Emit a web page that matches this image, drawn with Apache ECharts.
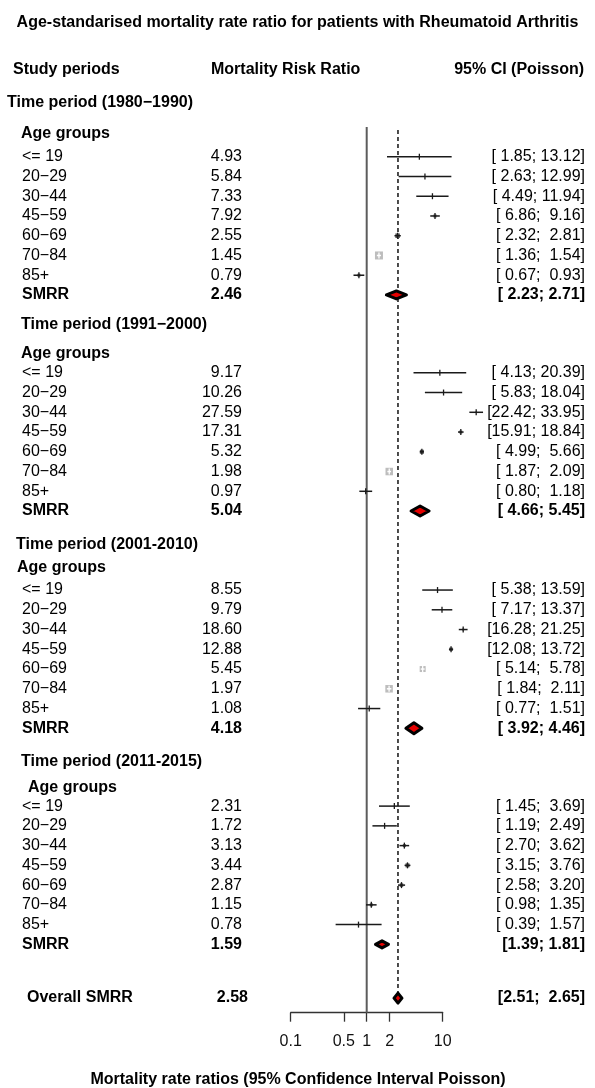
<!DOCTYPE html>
<html><head><meta charset="utf-8">
<script src="https://cdn.jsdelivr.net/npm/echarts@6/dist/echarts.min.js"></script>
<style>html,body{margin:0;padding:0;background:#fff}#c{width:595px;height:1088px}</style>
</head><body><div id="c"></div>
<script>
// ---------------- data ----------------
const periodLabels = ['Time period (1980\u22121990)', 'Time period (1991\u22122000)', 'Time period (2001-2010)', 'Time period (2011-2015)'];
const ageGroupsTitle = 'Age groups';
const ageGroups = ['<= 19', '20\u221229', '30\u221244', '45\u221259', '60\u221269', '70\u221284', '85+'];

const rr1980 = [4.93, 5.84, 7.33, 7.92, 2.55, 1.45, 0.79];
const lo1980 = [1.85, 2.63, 4.49, 6.86, 2.32, 1.36, 0.67];
const hi1980 = [13.12, 12.99, 11.94, 9.16, 2.81, 1.54, 0.93];
const wt1980 = [0.4, 0.4, 1.6, 14, 32, 100, 14];
const smrr1980 = [2.46, 2.23, 2.71];

const rr1991 = [9.17, 10.26, 27.59, 17.31, 5.32, 1.98, 0.97];
const lo1991 = [4.13, 5.83, 22.42, 15.91, 4.99, 1.87, 0.80];
const hi1991 = [20.39, 18.04, 33.95, 18.84, 5.66, 2.09, 1.18];
const wt1991 = [0.4, 0.4, 3.5, 14, 25, 88, 3.5];
const smrr1991 = [5.04, 4.66, 5.45];

const rr2001 = [8.55, 9.79, 18.60, 12.88, 5.45, 1.97, 1.08];
const lo2001 = [5.38, 7.17, 16.28, 12.08, 5.14, 1.84, 0.77];
const hi2001 = [13.59, 13.37, 21.25, 13.72, 5.78, 2.11, 1.51];
const wt2001 = [0.4, 0.4, 6, 19, 56, 88, 1.6];
const smrr2001 = [4.18, 3.92, 4.46];

const rr2011 = [2.31, 1.72, 3.13, 3.44, 2.87, 1.15, 0.78];
const lo2011 = [1.45, 1.19, 2.70, 3.15, 2.58, 0.98, 0.39];
const hi2011 = [3.69, 2.49, 3.62, 3.76, 3.20, 1.35, 1.57];
const wt2011 = [1.6, 1.6, 14, 25, 19, 14, 0.4];
const smrr2011 = [1.59, 1.39, 1.81];

const overallSMRR = [2.58, 2.51, 2.65];

const tickValues = [0.1, 0.5, 1, 2, 10];
const tickLabels = ['0.1', '0.5', '1', '2', '10'];

// ---------------- layout / style ----------------
const FONT = '"Liberation Sans", Arial, Helvetica, sans-serif';
const FS = 16;
const L = {
  groupTop: [0, 11.24, 22.38, 33.37],
  agOff: [1.57, 1.47, 1.16, 1.27],
  firstOff: [2.72, 2.42, 2.28, 2.23],
  overall: 45.32,
  axisRow: 46.06,
  periodX: [7, 21, 16, 21],
  agX: [21, 21, 17, 28],
  labelX: 22,
  valueRight: 242,
  overallValueRight: 248,
  ciRight: 585,
  overallLabelX: 27,
  nullTop: 1.22, dashTop: 1.37, dashBottom: 45.6,
  boxScale: 0.8,
  diamondW: [20, 18, 16, 13, 8], diamondH: [8, 10, 11, 7, 10]
};

const groups = [
  {rr: rr1980, lo: lo1980, hi: hi1980, w: wt1980, s: smrr1980},
  {rr: rr1991, lo: lo1991, hi: hi1991, w: wt1991, s: smrr1991},
  {rr: rr2001, lo: lo2001, hi: hi2001, w: wt2001, s: smrr2001},
  {rr: rr2011, lo: lo2011, hi: hi2011, w: wt2011, s: smrr2011}
];

const rows = [];
groups.forEach((g, gi) => {
  const t = L.groupTop[gi];
  rows.push({kind: 'period', text: periodLabels[gi], y: t, x: L.periodX[gi]});
  rows.push({kind: 'ag', text: ageGroupsTitle, y: t + L.agOff[gi], x: L.agX[gi]});
  g.rr.forEach((v, i) => rows.push({kind: 'study', text: ageGroups[i], rr: v, lo: g.lo[i], hi: g.hi[i], w: g.w[i], y: t + L.firstOff[gi] + i}));
  rows.push({kind: 'smrr', text: 'SMRR', rr: g.s[0], lo: g.s[1], hi: g.s[2], y: t + L.firstOff[gi] + 7, g: gi});
});
rows.push({kind: 'overall', text: 'Overall SMRR', rr: overallSMRR[0], lo: overallSMRR[1], hi: overallSMRR[2], y: L.overall, g: 4});

function pad(v) { return v.toFixed(2).padStart(5, ' '); }
function ciText(r) {
  if (r.kind === 'study') return '[' + pad(r.lo) + '; ' + pad(r.hi) + ']';
  if (r.kind === 'overall') return '[' + r.lo.toFixed(2) + ';  ' + r.hi.toFixed(2) + ']';
  return '[' + (r.g < 3 ? ' ' : '') + r.lo.toFixed(2) + '; ' + r.hi.toFixed(2) + ']';
}

function txt(x, y, text, bold, align) {
  return {type: 'text', silent: true, style: {x: x, y: y, text: text, fill: '#000',
    font: (bold ? 'bold ' : '') + FS + 'px ' + FONT,
    align: align || 'left', textAlign: align || 'left', verticalAlign: 'middle', textVerticalAlign: 'middle'}};
}

function renderRow(params, api) {
  const r = rows[params.dataIndex];
  const cy = api.coord([1, r.y])[1];
  const ch = [];
  if (r.kind === 'period' || r.kind === 'ag') {
    ch.push(txt(r.x, cy, r.text, true));
    return {type: 'group', children: ch};
  }
  const bold = r.kind !== 'study';
  const lx = r.kind === 'overall' ? L.overallLabelX : L.labelX;
  ch.push(txt(lx, cy, r.text, bold));
  ch.push(txt(r.kind === 'overall' ? L.overallValueRight : L.valueRight, cy, r.rr.toFixed(2), bold, 'right'));
  ch.push(txt(L.ciRight, cy, ciText(r), bold, 'right'));
  const xe = api.coord([r.rr, r.y])[0];
  const xl = api.coord([r.lo, r.y])[0];
  const xh = api.coord([r.hi, r.y])[0];
  if (r.kind === 'study') {
    const ciPx = xh - xl;
    const s = L.boxScale * Math.sqrt(r.w);
    const inside = s > ciPx;
    const col = inside ? '#fff' : '#1a1a1a';
    if (s > 1) ch.push({type: 'rect', silent: true, shape: {x: xe - s / 2, y: cy - s / 2, width: s, height: s}, style: {fill: inside ? '#bdbdbd' : '#555'}});
    ch.push({type: 'line', silent: true, shape: {x1: xl, y1: cy, x2: xh, y2: cy}, style: {stroke: col, lineWidth: 1.5}});
    ch.push({type: 'line', silent: true, shape: {x1: xe, y1: cy - 3, x2: xe, y2: cy + 3}, style: {stroke: col, lineWidth: 1.3}});
  } else {
    const w = L.diamondW[r.g] / 2, h = L.diamondH[r.g] / 2;
    ch.push({type: 'polygon', silent: true, shape: {points: [[xe - w, cy], [xe, cy - h], [xe + w, cy], [xe, cy + h]]},
      style: {fill: '#e60000', stroke: '#000', lineWidth: 3, lineJoin: 'round'}});
  }
  return {type: 'group', children: ch};
}

const refValues = [1, overallSMRR[0]];
function renderRef(params, api) {
  const v = refValues[params.dataIndex];
  const isNull = params.dataIndex === 0;
  const p1 = api.coord([v, isNull ? L.nullTop : L.dashTop]);
  const p2 = api.coord([v, isNull ? L.axisRow : L.dashBottom]);
  return {type: 'line', silent: true, shape: {x1: p1[0], y1: p1[1], x2: p2[0], y2: p2[1]},
    style: isNull ? {stroke: '#5c5c5c', lineWidth: 2} : {stroke: '#111', lineWidth: 1.5, lineDash: [4, 3]}};
}

const chart = echarts.init(document.getElementById('c'), null, {renderer: 'canvas'});
chart.setOption({
  backgroundColor: '#fff',
  animation: false,
  grid: {left: 290.7, right: 152.3, top: 103, bottom: 75.3},
  xAxis: {
    type: 'log', logBase: 10, min: 0.1, max: 10, position: 'bottom',
    axisLine: {show: true, onZero: false, lineStyle: {color: '#333', width: 1.3}},
    axisTick: {show: true, customValues: tickValues, length: 9, lineStyle: {color: '#333', width: 1.3}},
    axisLabel: {show: true, customValues: tickValues, margin: 21, color: '#111', fontSize: FS, fontFamily: FONT,
      formatter: v => { const i = tickValues.findIndex(t => Math.abs(t - v) < 1e-9); return i >= 0 ? tickLabels[i] : ''; }},
    splitLine: {show: false}, minorTick: {show: false}, minorSplitLine: {show: false}
  },
  yAxis: {type: 'value', inverse: true, min: 0, max: L.axisRow, show: false},
  graphic: [
    {type: 'text', left: 'center', top: 15, style: {text: 'Age-standarised mortality rate ratio for patients with Rheumatoid Arthritis', font: 'bold ' + FS + 'px ' + FONT, fill: '#000'}},
    {type: 'text', x: 13, y: 70, style: {text: 'Study periods', font: 'bold ' + FS + 'px ' + FONT, fill: '#000', textVerticalAlign: 'middle', verticalAlign: 'middle'}},
    {type: 'text', x: 211, y: 70, style: {text: 'Mortality Risk Ratio', font: 'bold ' + FS + 'px ' + FONT, fill: '#000', textVerticalAlign: 'middle', verticalAlign: 'middle'}},
    {type: 'text', x: 584, y: 70, style: {text: '95% CI (Poisson)', font: 'bold ' + FS + 'px ' + FONT, fill: '#000', textAlign: 'right', align: 'right', textVerticalAlign: 'middle', verticalAlign: 'middle'}},
    {type: 'text', x: 298, y: 1080, style: {text: 'Mortality rate ratios (95% Confidence Interval Poisson)', font: 'bold ' + FS + 'px ' + FONT, fill: '#000', textAlign: 'center', align: 'center', textVerticalAlign: 'middle', verticalAlign: 'middle'}}
  ],
  series: [
    {type: 'custom', clip: false, silent: true, renderItem: renderRef, data: refValues.map(v => [v, 0])},
    {type: 'custom', clip: false, silent: true, renderItem: renderRow, data: rows.map(r => [r.rr || 1, r.y])}
  ]
});
</script></body></html>
